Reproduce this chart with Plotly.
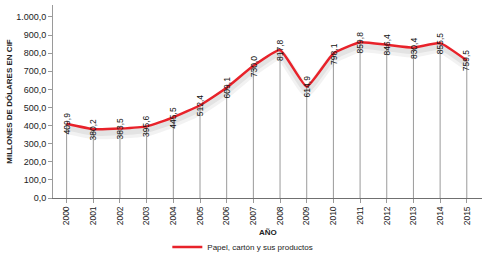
import plotly.graph_objects as go

years = ["2000","2001","2002","2003","2004","2005","2006","2007","2008","2009","2010","2011","2012","2013","2014","2015"]
values = [409.9, 380.2, 383.5, 395.6, 445.5, 512.4, 609.1, 730.0, 817.8, 614.9, 798.1, 859.8, 846.4, 830.4, 855.5, 759.5]
labels = ["409,9","380,2","383,5","395,6","445,5","512,4","609,1","730,0","817,8","614,9","798,1","859,8","846,4","830,4","855,5","759,5"]
series_name = "Papel, cartón y sus productos"
x_title = "AÑO"
y_title = "MILLONES DE DÓLARES EN CIF"

FONT = "Arial, Liberation Sans, sans-serif"

fig = go.Figure()

# drop lines from axis to each point
fig.add_trace(go.Scatter(
    x=years, y=values, mode="markers", marker=dict(size=0.1, color="rgba(0,0,0,0)"),
    error_y=dict(type="data", symmetric=False, array=[0]*len(values), arrayminus=values,
                 width=0, thickness=1, color="#9a9a9a"),
    showlegend=False, hoverinfo="skip"))

# soft shadow
fig.add_trace(go.Scatter(
    x=years, y=[v - 28 for v in values], mode="lines", line=dict(color="rgba(0,0,0,0.05)", width=10, shape="spline", smoothing=0.4),
    showlegend=False, hoverinfo="skip"))
fig.add_trace(go.Scatter(
    x=years, y=[v - 20 for v in values], mode="lines", line=dict(color="rgba(0,0,0,0.06)", width=6, shape="spline", smoothing=0.4),
    showlegend=False, hoverinfo="skip"))

fig.add_trace(go.Scatter(
    x=years, y=values, mode="lines", name=series_name,
    line=dict(color="#e8222a", width=2.5, shape="spline", smoothing=0.4)))

for i, (v, t) in enumerate(zip(values, labels)):
    fig.add_annotation(x=i, y=v, xref="x", yref="y", text=t, textangle=-90, showarrow=False,
                       font=dict(family=FONT, size=8.5, color="#111111"),
                       xanchor="center", yanchor="middle")

fig.add_annotation(x=0.5, y=-0.181, xref="paper", yref="paper", text="<b>" + x_title + "</b>",
                   showarrow=False, xanchor="center", yanchor="middle",
                   font=dict(family=FONT, size=8, color="#222222"))

fig.update_layout(
    width=485, height=259,
    margin=dict(l=53, r=3, t=5, b=61, autoexpand=False),
    paper_bgcolor="white", plot_bgcolor="white",
    separators=",.",
    font=dict(family=FONT, size=9, color="#222222"),
    showlegend=True,
    legend=dict(orientation="h", xref="container", yref="container", x=0.345, y=0.046,
                xanchor="left", yanchor="middle",
                font=dict(family=FONT, size=8, color="#222222"), itemwidth=30),
)
fig.update_xaxes(type="category", range=[-0.51, 15.57], showgrid=False, automargin=False,
                 showline=True, linecolor="#707070", linewidth=1,
                 ticks="outside", ticklen=4, tickcolor="#9a9a9a", tickangle=-90,
                 tickfont=dict(family=FONT, size=8.5, color="#222222"))
fig.update_yaxes(range=[0, 1066], dtick=100, tickformat=",.1f", showgrid=False, automargin=False,
                 showline=True, linecolor="#9a9a9a", linewidth=1,
                 ticks="outside", ticklen=4, tickcolor="#9a9a9a", zeroline=False,
                 tickfont=dict(family=FONT, size=9, color="#222222"),
                 title=dict(text="<b>" + y_title + "</b>", font=dict(family=FONT, size=8, color="#222222"), standoff=2))

fig.write_html("out.html", config={"displayModeBar": False},
               post_script="document.body.style.margin='0';")
